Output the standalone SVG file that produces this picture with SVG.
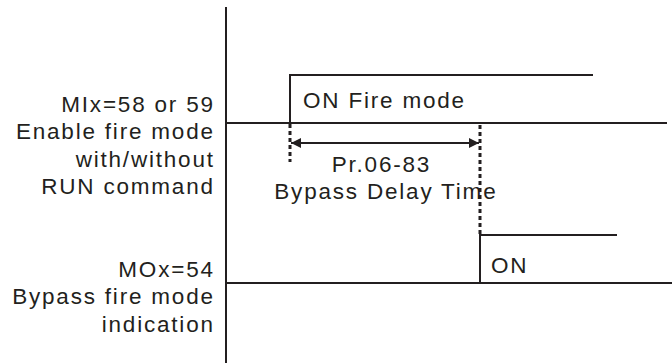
<svg xmlns="http://www.w3.org/2000/svg" width="672" height="363" viewBox="0 0 672 363">
<defs>
<style>
.ln{stroke:#231f20;stroke-width:2;fill:none}
.ds{stroke:#231f20;stroke-width:3;fill:none;stroke-dasharray:4 3}
.t{font-family:"Liberation Sans",Arial,sans-serif;font-size:22.5px;fill:#231f20;letter-spacing:1.8px}
.r{text-anchor:end}
.m{text-anchor:middle}
</style>
<marker id="ah" viewBox="0 0 10 10" refX="10" refY="5" markerWidth="10" markerHeight="10" markerUnits="userSpaceOnUse" orient="auto-start-reverse">
<path d="M0,0 L10,5 L0,10 Z" fill="#231f20"/>
</marker>
</defs>
<rect width="672" height="363" fill="#fff"/>
<g id="labels">
<text class="t r" x="214.8" y="112">MIx=58 or 59</text>
<text class="t r" x="214.8" y="139">Enable fire mode</text>
<text class="t r" x="214.8" y="167">with/without</text>
<text class="t r" x="214.8" y="193.5">RUN command</text>
<text class="t r" x="214.8" y="277">MOx=54</text>
<text class="t r" x="214.8" y="303.5">Bypass fire mode</text>
<text class="t r" x="214.8" y="332">indication</text>
</g>
<g id="axis">
<path class="ln" d="M226,7 V363"/>
</g>
<g id="signal-fire">
<path class="ln" d="M226,123 H667"/>
<path class="ln" d="M290,123 V75 H593"/>
<text class="t" x="303" y="108">ON Fire mode</text>
</g>
<g id="signal-bypass">
<path class="ln" d="M226,283 H672"/>
<path class="ln" d="M480,283 V235 H617"/>
<text class="t" x="491" y="273">ON</text>
</g>
<g id="connectors">
<path class="ds" d="M290,124 V162"/>
<path class="ds" d="M480,125 V236"/>
<path class="ln" d="M291,143 H479" marker-start="url(#ah)" marker-end="url(#ah)"/>
</g>
<g id="delay-label">
<text class="t m" x="381.4" y="172">Pr.06-83</text>
<text class="t m" x="385.9" y="199">Bypass Delay Time</text>
</g>
</svg>
